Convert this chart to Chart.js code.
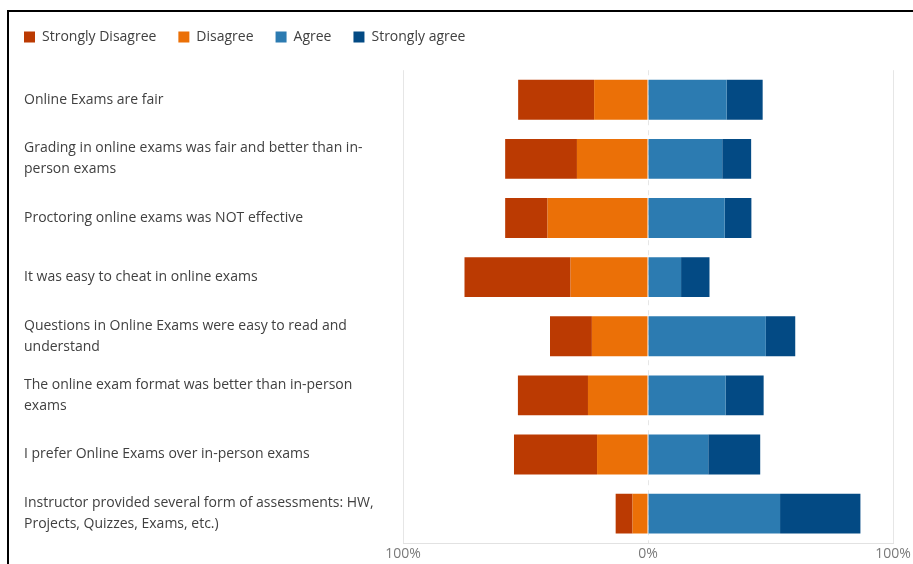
<!DOCTYPE html>
<html>
<head>
<meta charset="utf-8">
<title>Online exams survey</title>
<script src="https://cdn.jsdelivr.net/npm/chart.js@4/dist/chart.umd.min.js"></script>
<style>
  html, body { margin: 0; padding: 0; background: #fff; overflow: hidden; }
  #wrap { position: absolute; left: 0; top: 0; width: 913px; height: 564px; }
  #frame {
    position: absolute; left: 7px; top: 10px; width: 920px; height: 570px;
    border-left: 2px solid #000; border-top: 2px solid #000;
    pointer-events: none;
  }
</style>
</head>
<body>
<div id="wrap"><canvas id="survey"></canvas></div>
<div id="frame"></div>
<script>
// survey statements, split into the lines shown on the axis
var statements = [
	["Online Exams are fair"],
	["Grading in online exams was fair and better than in-", "person exams"],
	["Proctoring online exams was NOT effective"],
	["It was easy to cheat in online exams"],
	["Questions in Online Exams were easy to read and", "understand"],
	["The online exam format was better than in-person", "exams"],
	["I prefer Online Exams over in-person exams"],
	["Instructor provided several form of assessments: HW,", "Projects, Quizzes, Exams, etc.)"]
];

// share of answers, percent
var stronglyDisagree = [31.0, 29.3, 17.3, 43.3, 17.1, 28.6, 33.9, 6.9];
var disagree = [22.0, 29.0, 41.0, 31.6, 22.9, 24.5, 20.8, 6.3];
var agree = [32.1, 30.3, 31.3, 13.5, 48.1, 31.7, 24.6, 53.9];
var stronglyAgree = [14.7, 11.8, 10.9, 11.6, 12.0, 15.5, 21.2, 32.8];

var xTicks = [-100, 0, 100];

function negate(arr) {
	return arr.map(function (v) { return -v; });
}

var FONT = "'Open Sans', 'Noto Sans', sans-serif";
var LEGEND_PAD = 22;

// pull the legend back so its first box lines up with the axis labels,
// and leave a gap under it
var legendSpacing = {
	id: 'legendSpacing',
	beforeInit: function (chart) {
		var fit = chart.legend.fit;
		chart.legend.fit = function () {
			fit.bind(chart.legend)();
			this.height = 62.2;
		};
	},
	afterLayout: function (chart) {
		chart.legend.left -= LEGEND_PAD;
		chart.legend.right -= LEGEND_PAD;
	}
};

var config = {
	type: 'bar',
	data: {
		labels: statements,
		datasets: [{
			label: "Strongly Disagree",
			data: negate(stronglyDisagree),
			backgroundColor: "#BB3A02",
			order: 2
		}, {
			label: "Disagree",
			data: negate(disagree),
			backgroundColor: "#EB7007",
			order: 1
		}, {
			label: "Agree",
			data: agree,
			backgroundColor: "#2C7BB1",
			order: 3
		}, {
			label: "Strongly agree",
			data: stronglyAgree,
			backgroundColor: "#034A84",
			order: 4
		}]
	},
	options: {
		indexAxis: 'y',
		responsive: true,
		maintainAspectRatio: false,
		animation: false,
		datasets: {
			bar: {
				barPercentage: 0.675,
				categoryPercentage: 1,
				borderWidth: 0
			}
		},
		layout: {
			padding: { left: 24, right: 20, top: 8, bottom: 0 }
		},
		scales: {
			x: {
				stacked: true,
				min: -100,
				max: 100,
				afterBuildTicks: function (scale) {
					scale.ticks = xTicks.map(function (v) { return { value: v }; });
				},
				grid: {
					color: '#e6e6e6',
					drawTicks: false
				},
				border: {
					color: '#e2e2e2',
					dash: function (ctx) {
						return ctx.tick && ctx.tick.value === 0 ? [5, 5] : [];
					}
				},
				ticks: {
					padding: 2,
					color: '#7a7a7a',
					font: { family: FONT, size: 14 },
					maxRotation: 0,
					callback: function (v) { return Math.abs(v) + '%'; }
				}
			},
			y: {
				stacked: true,
				grid: { display: false },
				border: { display: false },
				afterFit: function (scale) { scale.width = 379; },
				ticks: {
					crossAlign: 'far',
					color: '#404040',
					font: { family: FONT, size: 14, lineHeight: 1.5 }
				}
			}
		},
		plugins: {
			legend: {
				position: 'top',
				align: 'start',
				labels: {
					boxWidth: 11,
					boxHeight: 11,
					padding: LEGEND_PAD,
					color: '#404040',
					font: { family: FONT, size: 14 },
					sort: function (a, b) { return a.datasetIndex - b.datasetIndex; }
				}
			},
			tooltip: { enabled: false }
		}
	},
	plugins: [legendSpacing]
};

var ctx = document.getElementById("survey").getContext("2d");
window.surveyChart = new Chart(ctx, config);
</script>
</body>
</html>
